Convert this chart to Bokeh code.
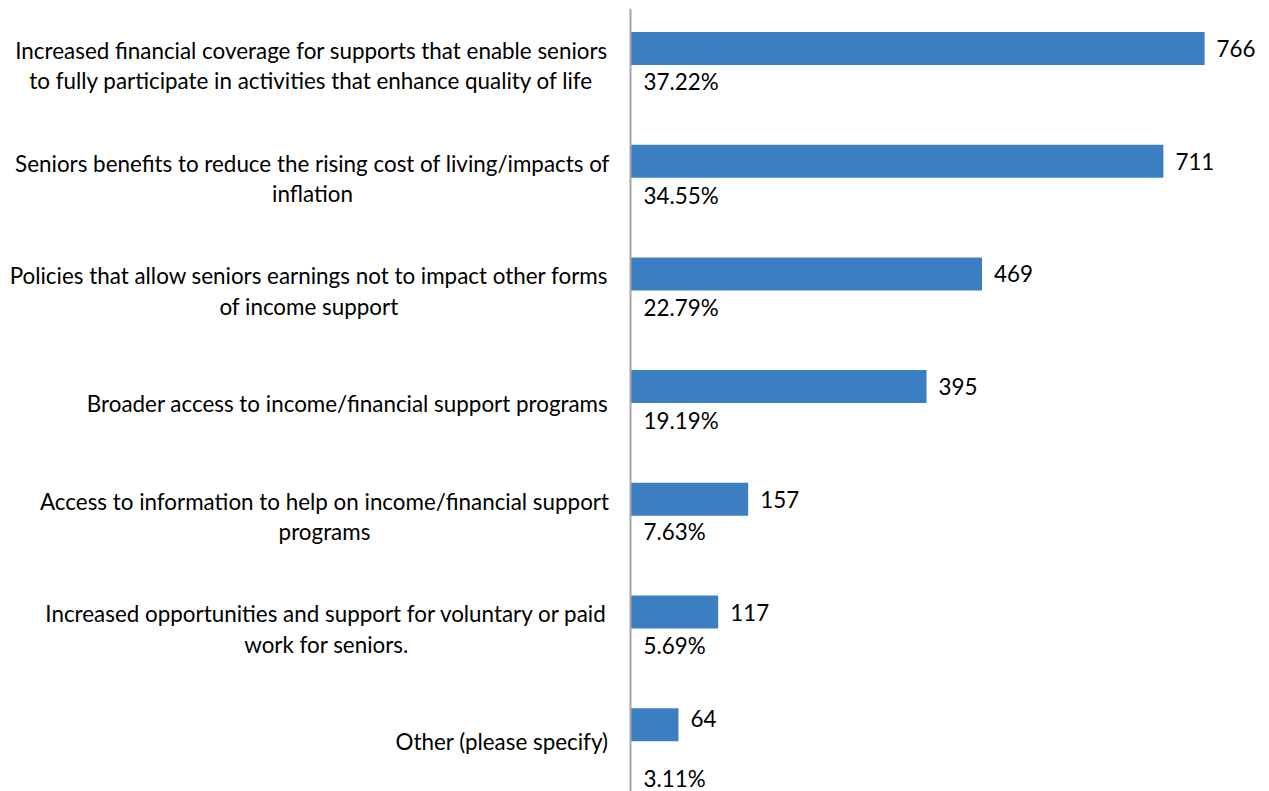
from bokeh.plotting import figure
from bokeh.models import ColumnDataSource, Range1d, Span
from bokeh.core.properties import value
from bokeh.embed import file_html
from bokeh.resources import INLINE

# ---- data ----
categories = [
    "Increased financial coverage for supports that enable seniors\nto fully participate in activities that enhance quality of life",
    "Seniors benefits to reduce the rising cost of living/impacts of\ninflation",
    "Policies that allow seniors earnings not to impact other forms\nof income support",
    "Broader access to income/financial support programs",
    "Access to information to help on income/financial support\nprograms",
    "Increased opportunities and support for voluntary or paid\nwork for seniors.",
    "Other (please specify)",
]
counts = [766, 711, 469, 395, 157, 117, 64]
percents = ["37.22%", "34.55%", "22.79%", "19.19%", "7.63%", "5.69%", "3.11%"]

# ---- layout / style constants (pixels) ----
W, H = 1269, 791
TOP_PX = 8              # plot area starts here
AXIS_PX = 630           # axis position inside the canvas
PX_PER_UNIT = 0.7495    # horizontal scale
BAND_PX = 112.7         # category spacing
FIRST_CENTER_PX = 65    # canvas y of first category centre
BAR_SHIFT_PX = 17       # bars sit above the category centre
label_center_px = [311, 312, 308.5, 347, 324, 326, 501.5]   # x centre of each label block
pct_dy = [16, 17, 17, 17, 15, 16, 37]                         # percent label offset from category centre
val_dy = [0, 0, 0, 0, 0, 0, -6]                               # value label offset from bar centre
FONT = "Lato"
FS = "22.4px"
BAR_COLOR = "#3B7EC2"

n = len(categories)
idx = list(range(n))
frame_h = H - TOP_PX
top_val = -(FIRST_CENTER_PX - TOP_PX) / BAND_PX
bottom_val = top_val + frame_h / BAND_PX
x_start = -AXIS_PX / PX_PER_UNIT
x_end = (W - AXIS_PX) / PX_PER_UNIT

bar_shift = BAR_SHIFT_PX / BAND_PX
src = ColumnDataSource(dict(
    y=idx,
    ybar=[i - bar_shift for i in idx],
    count=counts,
    count_txt=[str(c) for c in counts],
    pct=percents,
    cat=categories,
    zero=[0] * n,
    lab_off=[c - AXIS_PX for c in label_center_px],
    pct_off=pct_dy,
    val_off=val_dy,
))

p = figure(width=W, height=H, output_backend="svg", toolbar_location=None,
           x_range=Range1d(x_start, x_end), y_range=Range1d(bottom_val, top_val),
           min_border=0, min_border_top=TOP_PX, outline_line_color=None)
p.xaxis.visible = False
p.yaxis.visible = False
p.grid.visible = False
p.background_fill_color = "white"
p.border_fill_color = "white"

p.hbar(y="ybar", left=0, right="count", height=33 / BAND_PX, source=src,
       fill_color=BAR_COLOR, line_color=None)

p.add_layout(Span(location=0, dimension="height", line_color="#A6A6A6", line_width=2))

# count labels (right of bar)
p.text(x="count", y="ybar", text="count_txt", source=src, x_offset=12, y_offset="val_off",
       text_font=value(FONT), text_font_size=FS, text_color="#000000",
       text_align="left", text_baseline="middle")

# percentage labels (below bar)
p.text(x="zero", y="y", text="pct", source=src, x_offset=13, y_offset="pct_off",
       text_font=value(FONT), text_font_size=FS, text_color="#000000",
       text_align="left", text_baseline="middle")

# category labels
p.text(x="zero", y="y", text="cat", source=src, x_offset="lab_off",
       text_font=value(FONT), text_font_size=FS, text_color="#000000",
       text_align="center", text_baseline="middle", text_line_height=1.12)

open("out.html", "w").write(file_html(p, INLINE))
